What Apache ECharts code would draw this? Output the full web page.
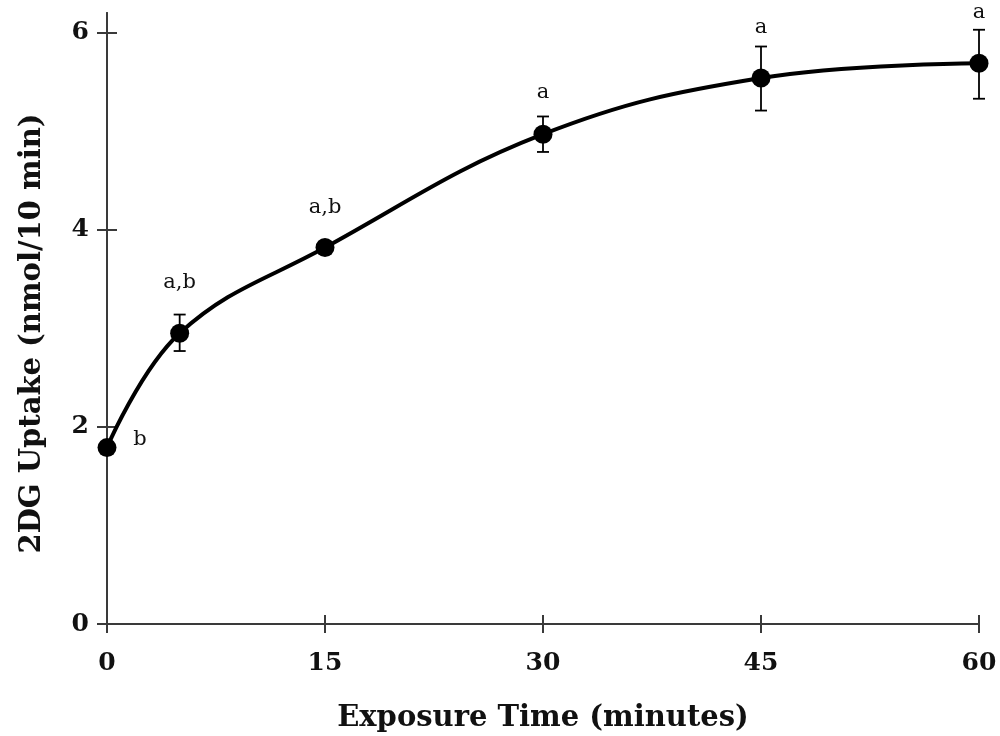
<!DOCTYPE html>
<html>
<head>
<meta charset="utf-8">
<script src="https://cdn.jsdelivr.net/npm/echarts@6/dist/echarts.min.js"></script>
<style>html,body{margin:0;padding:0;background:#fff}#c{width:1000px;height:736px}</style>
</head>
<body>
<div id="c"></div>
<script>
const times = [0, 5, 15, 30, 45, 60];
const uptake = [1.79, 2.95, 3.82, 4.97, 5.54, 5.69];
const errLow = [1.74, 2.77, 3.77, 4.79, 5.21, 5.33];
const errHigh = [1.84, 3.14, 3.87, 5.15, 5.86, 6.03];
const sigLabels = ['b', 'a,b', 'a,b', 'a', 'a', 'a'];
const sigLabelY = [1.87, 3.46, 4.23, 5.39, 6.05, 6.2];
const xTicks = [0, 15, 30, 45, 60];
const yTicks = [0, 2, 4, 6];

const serif = 'DejaVu Serif';
const chart = echarts.init(document.getElementById('c'), null, {renderer: 'canvas'});

const axisColor = '#3a3a3a';
const axisLine = {show: true, lineStyle: {color: axisColor, width: 2}};
const xBase = {
  type: 'value', min: 0, max: 60, interval: 15, position: 'bottom', gridIndex: 0,
  axisLine: axisLine, splitLine: {show: false}
};
const yBase = {
  type: 'value', min: 0, max: 6.2, interval: 2, position: 'left', gridIndex: 0,
  axisLine: axisLine, splitLine: {show: false}
};

chart.setOption({
  animation: false,
  grid: {left: 107, right: 21, top: 13, bottom: 112, containLabel: false, outerBoundsMode: 'none'},
  xAxis: [
    Object.assign({}, xBase, {
      axisTick: {show: true, inside: false, length: 9, customValues: xTicks, lineStyle: {color: axisColor, width: 2}},
      axisLabel: {
        margin: 27, color: '#111', fontFamily: serif, fontWeight: 'bold', fontSize: 25,
        customValues: xTicks
      },
      name: 'Exposure Time (minutes)', nameLocation: 'middle', nameGap: 80,
      nameTextStyle: {color: '#111', fontFamily: serif, fontWeight: 'bold', fontSize: 29}
    }),
    Object.assign({}, xBase, {
      axisTick: {show: true, inside: true, length: 9, customValues: xTicks, lineStyle: {color: axisColor, width: 2}},
      axisLabel: {show: false}
    })
  ],
  yAxis: [
    Object.assign({}, yBase, {
      axisTick: {show: true, inside: false, length: 10, customValues: yTicks, lineStyle: {color: axisColor, width: 2}},
      axisLabel: {
        margin: 18, color: '#111', fontFamily: serif, fontWeight: 'bold', fontSize: 25,
        customValues: yTicks
      },
      name: '2DG Uptake (nmol/10 min)', nameLocation: 'middle', nameGap: 60,
      nameTextStyle: {color: '#111', fontFamily: serif, fontWeight: 'bold', fontSize: 29, padding: [0, 30, 0, 0]}
    }),
    Object.assign({}, yBase, {
      axisTick: {show: true, inside: true, length: 10, customValues: yTicks, lineStyle: {color: axisColor, width: 2}},
      axisLabel: {show: false}
    })
  ],
  series: [
    {
      type: 'custom',
      xAxisIndex: 0, yAxisIndex: 0,
      renderItem: function (params, api) {
        const x = api.value(0);
        const lo = api.coord([x, api.value(1)]);
        const hi = api.coord([x, api.value(2)]);
        const w = 6;
        const style = {stroke: '#000', lineWidth: 1.8};
        return {
          type: 'group',
          children: [
            {type: 'line', shape: {x1: lo[0], y1: lo[1], x2: hi[0], y2: hi[1]}, style: style},
            {type: 'line', shape: {x1: lo[0] - w, y1: lo[1], x2: lo[0] + w, y2: lo[1]}, style: style},
            {type: 'line', shape: {x1: hi[0] - w, y1: hi[1], x2: hi[0] + w, y2: hi[1]}, style: style}
          ]
        };
      },
      data: times.map((t, i) => [t, errLow[i], errHigh[i]]),
      z: 1
    },
    {
      type: 'line',
      xAxisIndex: 0, yAxisIndex: 0,
      data: times.map((t, i) => [t, uptake[i]]),
      smooth: 0.4,
      symbol: 'circle', symbolSize: 19,
      lineStyle: {color: '#000', width: 4},
      itemStyle: {color: '#000'},
      z: 3
    },
    {
      type: 'custom',
      xAxisIndex: 0, yAxisIndex: 0,
      renderItem: function (params, api) {
        const p = api.coord([api.value(0), api.value(1)]);
        const i = params.dataIndex;
        return {
          type: 'text',
          x: p[0] + (i === 0 ? 33 : 0), y: p[1],
          style: {
            text: sigLabels[i], fill: '#111', font: '21px "' + serif + '"',
            align: 'center', verticalAlign: 'middle'
          }
        };
      },
      data: times.map((t, i) => [t, sigLabelY[i]]),
      clip: false,
      z: 4
    }
  ]
});
</script>
</body>
</html>
